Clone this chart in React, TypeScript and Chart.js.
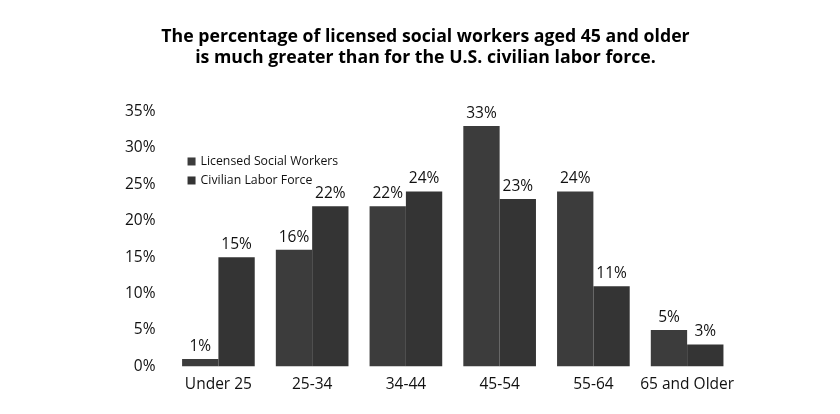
import React, { useEffect, useRef } from "react";
import { Chart, registerables } from "chart.js";

Chart.register(...registerables);

const categories = ["Under 25", "25-34", "34-44", "45-54", "55-64", "65 and Older"];
const licensedSocialWorkers = [1, 16, 22, 33, 24, 5];
const civilianLaborForce = [15, 22, 24, 23, 11, 3];
const seriesNames = ["Licensed Social Workers", "Civilian Labor Force"];
const titleLines = [
  "The percentage of licensed social workers aged 45 and older",
  "is much greater than for the U.S. civilian labor force.",
];

const FONT = "'Open Sans', 'Noto Sans', sans-serif";
const COLORS = ["#3c3c3c", "#343434"];

const labelsPlugin = {
  id: "valueLabels",
  afterDatasetsDraw(chart: any) {
    const ctx = chart.ctx;
    ctx.save();
    ctx.fillStyle = "#111";
    ctx.font = `15.5px ${FONT}`;
    ctx.textAlign = "center";
    ctx.textBaseline = "bottom";
    chart.data.datasets.forEach((ds: any, di: number) => {
      const meta = chart.getDatasetMeta(di);
      meta.data.forEach((bar: any, i: number) => {
        ctx.fillText(ds.data[i] + "%", bar.x, bar.y - 5);
      });
    });
    // legend
    const x0 = chart.chartArea.left + 16;
    const y0 = chart.chartArea.top + 50;
    ctx.font = `12.3px ${FONT}`;
    ctx.textAlign = "left";
    ctx.textBaseline = "middle";
    seriesNames.forEach((name, i) => {
      const y = y0 + i * 19;
      ctx.fillStyle = COLORS[i];
      ctx.fillRect(x0, y - 4, 8, 8);
      ctx.fillStyle = "#111";
      ctx.fillText(name, x0 + 13, y);
    });
    ctx.restore();
  },
};

export default function App() {
  const ref = useRef<HTMLCanvasElement>(null);
  useEffect(() => {
    if (!ref.current) return;
    const chart = new Chart(ref.current, {
      type: "bar",
      data: {
        labels: categories,
        datasets: [
          { label: seriesNames[0], data: licensedSocialWorkers, backgroundColor: COLORS[0] },
          { label: seriesNames[1], data: civilianLaborForce, backgroundColor: COLORS[1] },
        ],
      },
      options: {
        animation: false,
        responsive: false,
        layout: { padding: { left: 117, right: 106, top: 0, bottom: 19 } },
        datasets: { bar: { categoryPercentage: 0.775, barPercentage: 1 } } as any,
        plugins: {
          legend: { display: false },
          tooltip: { enabled: false },
          title: {
            display: true,
            text: titleLines,
            color: "#000",
            font: { family: FONT, size: 17.7, weight: "bold" },
            padding: { top: 26, bottom: 43 },
            lineHeight: 1.1,
          },
        },
        scales: {
          x: {
            grid: { display: false },
            border: { display: false },
            ticks: {
              color: "#111",
              font: { family: FONT, size: 15.5 },
              padding: 1,
              maxRotation: 0,
              minRotation: 0,
              autoSkip: false,
            },
          },
          y: {
            min: 0,
            max: 35,
            grid: { display: false },
            border: { display: false },
            ticks: {
              stepSize: 5,
              color: "#111",
              font: { family: FONT, size: 15.5 },
              padding: 8,
              callback: (v: any) => v + "%",
            },
          },
        },
      },
      plugins: [labelsPlugin],
    });
    return () => chart.destroy();
  }, []);
  return (
    <div style={{ position: "absolute", left: 0, top: 0, width: 840, height: 414, background: "#fff" }}>
      <canvas ref={ref} width={840} height={414} />
    </div>
  );
}
